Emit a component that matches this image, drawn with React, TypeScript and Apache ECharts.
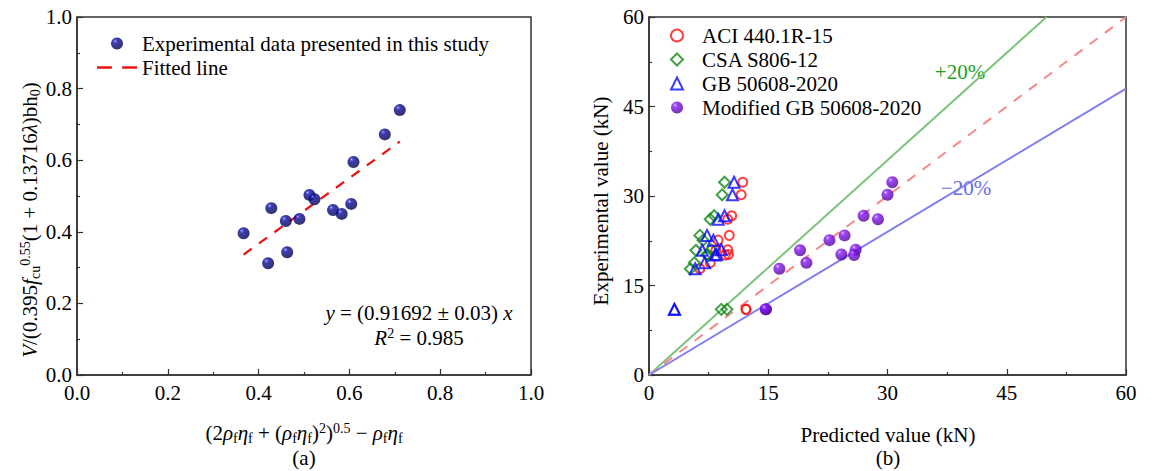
import React, { useEffect, useRef } from "react";
import * as echarts from "echarts";

// ---- Panel (a) data ----
const studyX = [0.367, 0.421, 0.428, 0.46, 0.463, 0.49, 0.512, 0.523, 0.564, 0.583, 0.604, 0.609, 0.678, 0.711];
const studyY = [0.396, 0.312, 0.466, 0.43, 0.343, 0.436, 0.503, 0.491, 0.461, 0.45, 0.478, 0.595, 0.672, 0.74];
const fitSlope = 0.91692;
const leftTicks = [0, 0.2, 0.4, 0.6, 0.8, 1.0];

// ---- Panel (b) data ----
const experimental = [32.3, 30.2, 26.7, 26.1, 23.4, 22.6, 21.0, 20.9, 20.2, 20.1, 18.8, 17.8, 11.0, 11.0];
const aciPred = [11.8, 11.6, 10.4, 9.9, 10.1, 8.7, 9.9, 8.4, 10.0, 9.6, 7.7, 6.4, 12.2, 12.2];
const csaPred = [9.5, 9.2, 8.2, 7.7, 6.4, 6.8, 7.8, 5.9, 7.3, 7.4, 5.7, 5.2, 9.1, 9.8];
const gbPred = [10.7, 10.5, 9.5, 8.7, 7.3, 8.1, 9.1, 6.7, 8.5, 8.3, 7.0, 5.8, 3.2, 3.2];
const modPred = [30.6, 30.0, 27.0, 28.8, 24.6, 22.7, 26.0, 19.0, 24.2, 25.8, 19.8, 16.4, 14.7, 14.7];
const rightTicks = [0, 15, 30, 45, 60];
const plusLine = [[0, 0], [50, 60]];
const equalLine = [[0, 0], [60, 60]];
const minusLine = [[0, 0], [60, 48]];

const FONT = "'Liberation Serif', 'Times New Roman', Times, serif";
const FS = 21;

const sphere = (light: string, mid: string, base: string, dark: string) =>
  new echarts.graphic.RadialGradient(0.35, 0.3, 0.8, [
    { offset: 0, color: light },
    { offset: 0.07, color: mid },
    { offset: 0.26, color: base },
    { offset: 1, color: dark },
  ]);

const rich = {
  i: { fontFamily: FONT, fontSize: FS, fontStyle: "italic", color: "#000", lineHeight: 24 },
  n: { fontFamily: FONT, fontSize: FS, color: "#000", lineHeight: 24 },
  sub: { fontFamily: FONT, fontSize: 14, color: "#000", verticalAlign: "bottom", lineHeight: 14 },
  sup: { fontFamily: FONT, fontSize: 14, color: "#000", verticalAlign: "top", lineHeight: 14 },
};

const dashIcon = "path://M0 0h13v2.4H0z M22 0h13v2.4H22z";

export default function App() {
  const ref = useRef<HTMLDivElement>(null);
  useEffect(() => {
    document.body.style.margin = "0";
    const chart = echarts.init(ref.current!, null, { renderer: "svg" });
    const axisCommon = {
      axisLine: { show: true, lineStyle: { color: "#333", width: 1.5 } },
      axisTick: { show: true, inside: true, length: 6, lineStyle: { color: "#333", width: 1.2 } },
      minorTick: { show: true, splitNumber: 2, length: 3, lineStyle: { color: "#333", width: 1.2 } },
      splitLine: { show: false },
      axisLabel: { fontFamily: FONT, fontSize: FS, color: "#000" },
    };
    const fitXs = [Math.min(...studyX), Math.max(...studyX)];
    const legendText = { fontFamily: FONT, fontSize: FS, color: "#000", lineHeight: 21 };
    const option: any = {
      animation: false,
      backgroundColor: "#fff",
      textStyle: { fontFamily: FONT },
      grid: [
        { left: 77, top: 17, width: 454, height: 358, show: true, borderColor: "#333", borderWidth: 1.5 },
        { left: 649, top: 17, width: 477, height: 358, show: true, borderColor: "#333", borderWidth: 1.5 },
      ],
      xAxis: [
        {
          ...axisCommon, gridIndex: 0, type: "value", min: leftTicks[0], max: leftTicks[leftTicks.length - 1], interval: 0.2,
          axisLabel: { ...axisCommon.axisLabel, margin: 7, formatter: (v: number) => v.toFixed(1) },
        },
        {
          ...axisCommon, gridIndex: 1, type: "value", min: rightTicks[0], max: rightTicks[rightTicks.length - 1], interval: 15,
          axisLabel: { ...axisCommon.axisLabel, margin: 7 },
        },
      ],
      yAxis: [
        {
          ...axisCommon, gridIndex: 0, type: "value", min: 0, max: 1, interval: 0.2,
          axisLabel: { ...axisCommon.axisLabel, margin: 5, formatter: (v: number) => v.toFixed(1) },
        },
        {
          ...axisCommon, gridIndex: 1, type: "value", min: 0, max: 60, interval: 15,
          axisLabel: { ...axisCommon.axisLabel, margin: 5 },
          name: "Experimental value (kN)",
          nameLocation: "middle", nameRotate: 90, nameGap: 38,
          nameTextStyle: { fontFamily: FONT, fontSize: FS, color: "#000", padding: [0, 10, 0, 0] },
        },
      ],
      legend: [
        {
          left: 97, top: 33, padding: 0, orient: "vertical", itemWidth: 40, itemHeight: 12, itemGap: 3,
          textStyle: legendText,
          data: [
            { name: "Experimental data presented in this study", icon: "circle" },
            { name: "Fitted line", icon: dashIcon, itemStyle: { color: "#ee1111" } },
          ],
        },
        {
          left: 670, top: 25, padding: 0, orient: "vertical", itemWidth: 12, itemHeight: 12, itemGap: 3,
          textStyle: { ...legendText, padding: [0, 0, 0, 14] },
          data: ["ACI 440.1R-15", "CSA S806-12", "GB 50608-2020", "Modified GB 50608-2020"],
        },
      ],
      series: [
        {
          name: "Fitted line", type: "line", xAxisIndex: 0, yAxisIndex: 0, symbol: "none",
          data: fitXs.map((x) => [x, fitSlope * x]),
          lineStyle: { color: "#ee1111", width: 2.2, type: [10, 9] },
          itemStyle: { color: "#ee1111" }, z: 2,
        },
        {
          name: "Experimental data presented in this study", type: "scatter", xAxisIndex: 0, yAxisIndex: 0,
          symbol: "circle", symbolSize: 12,
          data: studyX.map((x, k) => [x, studyY[k]]),
          itemStyle: { color: sphere("#f0f0ff", "#5050e0", "#0a0a98", "#00003a") }, z: 3,
        },
        {
          name: "+20%", type: "line", xAxisIndex: 1, yAxisIndex: 1, symbol: "none", data: plusLine,
          lineStyle: { color: "#7cc47c", width: 2 }, z: 1,
        },
        {
          name: "1:1", type: "line", xAxisIndex: 1, yAxisIndex: 1, symbol: "none", data: equalLine,
          lineStyle: { color: "#f28a8a", width: 2, type: [10, 9] }, z: 1,
        },
        {
          name: "-20%", type: "line", xAxisIndex: 1, yAxisIndex: 1, symbol: "none", data: minusLine,
          lineStyle: { color: "#7f7ff0", width: 2 }, z: 1,
        },
        {
          name: "ACI 440.1R-15", type: "scatter", xAxisIndex: 1, yAxisIndex: 1, symbol: "circle", symbolSize: 9,
          data: aciPred.map((x, k) => [x, experimental[k]]),
          itemStyle: { color: "rgba(255,255,255,0)", borderColor: "#ff1010", borderWidth: 2 }, z: 3,
        },
        {
          name: "CSA S806-12", type: "scatter", xAxisIndex: 1, yAxisIndex: 1, symbol: "diamond", symbolSize: 11,
          data: csaPred.map((x, k) => [x, experimental[k]]),
          itemStyle: { color: "rgba(255,255,255,0)", borderColor: "#128a12", borderWidth: 2 }, z: 3,
        },
        {
          name: "GB 50608-2020", type: "scatter", xAxisIndex: 1, yAxisIndex: 1, symbol: "triangle", symbolSize: 11,
          data: gbPred.map((x, k) => [x, experimental[k]]),
          itemStyle: { color: "rgba(255,255,255,0)", borderColor: "#0a0aff", borderWidth: 2 }, z: 3,
        },
        {
          name: "Modified GB 50608-2020", type: "scatter", xAxisIndex: 1, yAxisIndex: 1, symbol: "circle", symbolSize: 12,
          data: modPred.map((x, k) => [x, experimental[k]]),
          itemStyle: { color: sphere("#ffffff", "#b070ff", "#8214f0", "#48008c") }, z: 3,
        },
      ],
      graphic: [
        {
          type: "text", x: 30, y: 220, rotation: Math.PI / 2,
          style: {
            text: "{i|V}{n|/(0.395}{i|f}{sub|cu}{sup|0.55}{n|(1 + 0.13716}{i|λ}{n|)bh}{sub|0}{n|)}",
            rich, align: "center", verticalAlign: "middle",
          },
        },
        {
          type: "text", x: 304, y: 433,
          style: {
            text: "{n|(2}{i|ρ}{sub|f}{i|η}{sub|f}{n| + (}{i|ρ}{sub|f}{i|η}{sub|f}{n|)}{sup|2}{n|)}{sup|0.5}{n| − }{i|ρ}{sub|f}{i|η}{sub|f}",
            rich, align: "center", verticalAlign: "middle",
          },
        },
        { type: "text", x: 304, y: 458, style: { text: "(a)", font: `${FS}px ${FONT}`, fill: "#000", align: "center", verticalAlign: "middle" } },
        { type: "text", x: 888, y: 435, style: { text: "Predicted value (kN)", font: `${FS}px ${FONT}`, fill: "#000", align: "center", verticalAlign: "middle" } },
        { type: "text", x: 888, y: 458, style: { text: "(b)", font: `${FS}px ${FONT}`, fill: "#000", align: "center", verticalAlign: "middle" } },
        {
          type: "text", x: 419, y: 313,
          style: { text: "{i|y}{n| = (0.91692 ± 0.03) }{i|x}", rich, align: "center", verticalAlign: "middle" },
        },
        {
          type: "text", x: 419, y: 338,
          style: { text: "{i|R}{sup|2}{n| = 0.985}", rich, align: "center", verticalAlign: "middle" },
        },
        { type: "text", x: 960, y: 72, style: { text: "+20%", font: `${FS}px ${FONT}`, fill: "#22a022", align: "center", verticalAlign: "middle" } },
        { type: "text", x: 966, y: 188, style: { text: "−20%", font: `${FS}px ${FONT}`, fill: "#6a6ae8", align: "center", verticalAlign: "middle" } },
      ],
    };
    chart.setOption(option);
    return () => chart.dispose();
  }, []);
  return <div ref={ref} style={{ width: 1168, height: 471 }} />;
}
